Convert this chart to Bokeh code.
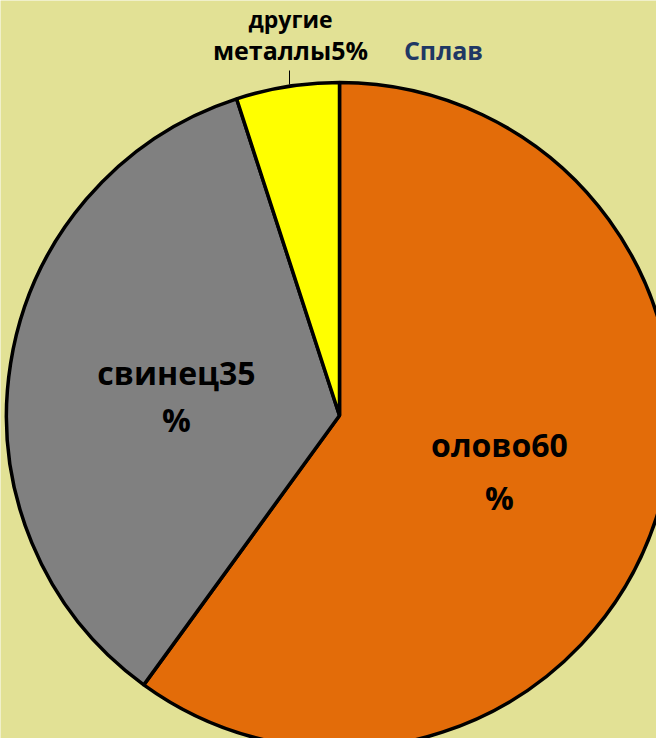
import numpy as np
from bokeh.plotting import figure
from bokeh.models import Range1d, ColumnDataSource
from bokeh.core.properties import value
from bokeh.embed import file_html
from bokeh.resources import INLINE

# data
names = ["олово", "свинец", "другие металлы"]
values = [60, 35, 5]
colors = ["#E36C09", "#808080", "#FFFF00"]
title = "Сплав"

W, H = 656, 738
BG = "#E2E195"
cx, cy, R = 339, H - 415, 333

p = figure(width=W, height=H, output_backend="svg", toolbar_location=None,
           x_range=Range1d(0, W), y_range=Range1d(0, H), min_border=0)
p.axis.visible = False
p.grid.visible = False
p.outline_line_color = None
p.background_fill_color = BG
p.border_fill_color = BG

tot = sum(values)
fr = np.cumsum([0] + values) / tot
start = [np.pi / 2 - 2 * np.pi * f for f in fr[:-1]]
end = [np.pi / 2 - 2 * np.pi * f for f in fr[1:]]
src = ColumnDataSource(dict(start=start, end=end, color=colors))
p.wedge(x=cx, y=cy, radius=R, start_angle="start", end_angle="end",
        direction="clock", fill_color="color", line_color="black", line_width=3.5,
        source=src)

def Y(ypix):
    return H - (ypix - 8)

FONT = value("Open Sans")
# labels: positions in window pixels
lab_pos = [(507, 452, 505), (184, 380, 427)]
for i, (xp, y1, y2) in enumerate(lab_pos):
    p.text(x=[xp - 8], y=[Y(y1)], text=[f"{names[i]}{values[i]}"],
           text_font=FONT, text_font_style="bold",
           text_font_size="32px", text_align="center", text_baseline="middle",
           text_color="black")
    p.text(x=[xp - 8], y=[Y(y2)], text=["%"],
           text_font=FONT, text_font_style="bold",
           text_font_size="32px", text_align="center", text_baseline="middle",
           text_color="black")

parts = names[2].split(" ")
p.text(x=[298 - 8], y=[Y(26)], text=[parts[0]],
       text_font=FONT, text_font_style="bold",
       text_font_size="23px", text_align="center", text_baseline="middle",
       text_color="black")
p.text(x=[298 - 8], y=[Y(57)], text=[f"{parts[1]}{values[2]}%"],
       text_font=FONT, text_font_style="bold",
       text_font_size="25px", text_align="center", text_baseline="middle",
       text_color="black")
p.segment(x0=[297 - 8], y0=[Y(78)], x1=[297 - 8], y1=[Y(92)],
          line_color="black", line_width=1)
p.text(x=[451 - 8], y=[Y(57)], text=[title],
       text_font=FONT, text_font_style="bold",
       text_font_size="25px", text_align="center", text_baseline="middle",
       text_color="#1F3864")

open("out.html", "w").write(file_html(p, INLINE))
